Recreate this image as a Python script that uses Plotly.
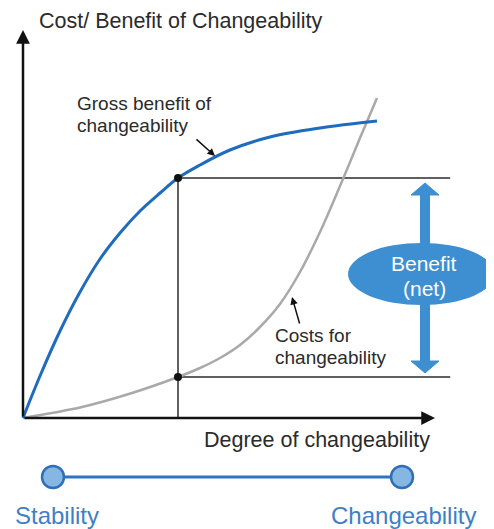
import plotly.graph_objects as go

# Gross benefit curve (degree of changeability -> benefit)
benefit_x = [0, 0.425, 0.925, 1.425, 1.925, 2.425, 2.925, 3.425, 3.875, 4.425, 5.175, 6.175, 7.425, 8.85]
benefit_y = [0, 1.05, 2.175, 3.15, 3.975, 4.625, 5.175, 5.625, 6.0, 6.325, 6.7, 7.025, 7.25, 7.425]

# Cost curve
cost_x = [0, 1.475, 2.725, 3.875, 4.425, 4.925, 5.425, 5.925, 6.425, 6.925, 7.425, 7.925, 8.425, 8.85]
cost_y = [0, 0.275, 0.625, 1.025, 1.25, 1.5, 1.825, 2.275, 2.85, 3.65, 4.65, 5.8, 7.0, 8.0]

# chosen degree and the two levels
chosen_x = 3.875
chosen_benefit = 6.0
chosen_cost = 1.025
guide_end = 10.68

# scale line below the chart
scale_x = [0.75, 9.475]
scale_y = -1.475

# net-benefit double arrow
net_x = 10.05
net_top = 5.875
net_bottom = 1.125

DARK = "#2b2b2b"
BLUE = "#1f6bbd"
GRAY = "#a9a9a9"
NET = "#3d8fd1"
FONT = "Liberation Sans, Arial, sans-serif"

fig = go.Figure()

# guide lines
fig.add_trace(go.Scatter(x=[chosen_x, chosen_x], y=[0, chosen_benefit], mode="lines",
                         line=dict(color=DARK, width=1.5), hoverinfo="skip"))
fig.add_trace(go.Scatter(x=[chosen_x, guide_end], y=[chosen_benefit, chosen_benefit], mode="lines",
                         line=dict(color=DARK, width=1.5), hoverinfo="skip"))
fig.add_trace(go.Scatter(x=[chosen_x, guide_end], y=[chosen_cost, chosen_cost], mode="lines",
                         line=dict(color=DARK, width=1.5), hoverinfo="skip"))

# curves
fig.add_trace(go.Scatter(x=cost_x, y=cost_y, mode="lines", line=dict(color=GRAY, width=2.5, shape="spline"),
                         name="Costs for changeability"))
fig.add_trace(go.Scatter(x=benefit_x, y=benefit_y, mode="lines", line=dict(color=BLUE, width=3, shape="spline"),
                         name="Gross benefit of changeability"))

# points on the curves
fig.add_trace(go.Scatter(x=[chosen_x, chosen_x], y=[chosen_benefit, chosen_cost], mode="markers",
                         marker=dict(color="#111111", size=8), hoverinfo="skip"))

# net benefit arrow shaft and heads
head_h = 0.3
head_w = 0.35
fig.add_trace(go.Scatter(x=[net_x, net_x], y=[net_bottom + head_h, net_top - head_h], mode="lines",
                         line=dict(color=NET, width=10), hoverinfo="skip"))
fig.add_trace(go.Scatter(x=[net_x - head_w, net_x, net_x + head_w, net_x - head_w],
                         y=[net_top - head_h, net_top, net_top - head_h, net_top - head_h],
                         fill="toself", fillcolor=NET, mode="lines", line=dict(color=NET, width=1),
                         hoverinfo="skip"))
fig.add_trace(go.Scatter(x=[net_x - head_w, net_x, net_x + head_w, net_x - head_w],
                         y=[net_bottom + head_h, net_bottom, net_bottom + head_h, net_bottom + head_h],
                         fill="toself", fillcolor=NET, mode="lines", line=dict(color=NET, width=1),
                         hoverinfo="skip"))

# stability / changeability scale
fig.add_trace(go.Scatter(x=scale_x, y=[scale_y, scale_y], mode="lines+markers",
                         line=dict(color="#2f74bf", width=3),
                         marker=dict(size=22, color="#86b7e3", line=dict(color="#2f6fb8", width=2.5)),
                         hoverinfo="skip"))

fig.add_shape(type="circle", xref="x", yref="y", x0=8.125, x1=11.8, y0=2.825, y1=4.375,
              fillcolor=NET, line=dict(width=0), layer="above")

annotations = [
    # axes with arrow heads
    dict(x=0, y=9.7, ax=0, ay=0, axref="x", ayref="y", text="", showarrow=True,
         arrowhead=2, arrowsize=1.1, arrowwidth=2.5, arrowcolor="#111111"),
    dict(x=10.3, y=0, ax=0, ay=0, axref="x", ayref="y", text="", showarrow=True,
         arrowhead=2, arrowsize=1.1, arrowwidth=2.5, arrowcolor="#111111"),
    # pointers to the curves
    dict(x=4.8, y=6.55, ax=4.3, ay=7.0, axref="x", ayref="y", text="",
         showarrow=True, arrowhead=2, arrowsize=1, arrowwidth=1.5, arrowcolor="#111111"),
    dict(x=6.725, y=3.025, ax=6.925, ay=2.325, axref="x", ayref="y", text="",
         showarrow=True, arrowhead=2, arrowsize=1, arrowwidth=1.5, arrowcolor="#111111"),
    # texts
    dict(x=0.35, y=9.925, text="Cost/ Benefit of Changeability", xanchor="left", font=dict(size=21.5, color=DARK)),
    dict(x=1.3, y=7.875, text="Gross benefit of", xanchor="left", font=dict(size=19, color=DARK)),
    dict(x=1.3, y=7.325, text="changeability", xanchor="left", font=dict(size=19, color=DARK)),
    dict(x=6.25, y=2.075, text="Costs for", xanchor="left", font=dict(size=19, color=DARK)),
    dict(x=6.25, y=1.525, text="changeability", xanchor="left", font=dict(size=19, color=DARK)),
    dict(x=10.225, y=-0.55, text="Degree of changeability", xanchor="right", font=dict(size=21.5, color=DARK)),
    dict(x=10.025, y=3.875, text="Benefit", font=dict(size=21, color="white")),
    dict(x=10.025, y=3.25, text="(net)", font=dict(size=21, color="white")),
    dict(x=-0.25, y=-2.425, text="Stability", xanchor="left", font=dict(size=24, color="#3f7fc5")),
    dict(x=11.375, y=-2.425, text="Changeability", xanchor="right", font=dict(size=24, color="#3f7fc5")),
]
for a in annotations:
    a.setdefault("xref", "x")
    a.setdefault("yref", "y")
    a.setdefault("showarrow", False)
    a.setdefault("yanchor", "middle")
    fig.add_annotation(**a)

# the page body adds an 8px margin, so the figure is 8px smaller on each side
fig.update_layout(
    width=486,
    height=521,
    margin=dict(l=0, r=0, t=0, b=0),
    plot_bgcolor="white",
    paper_bgcolor="white",
    showlegend=False,
    font=dict(family=FONT),
    xaxis=dict(range=[-0.375, 11.775], visible=False, fixedrange=True),
    yaxis=dict(range=[-2.775, 10.25], visible=False, fixedrange=True),
)

fig.write_html("out.html")
